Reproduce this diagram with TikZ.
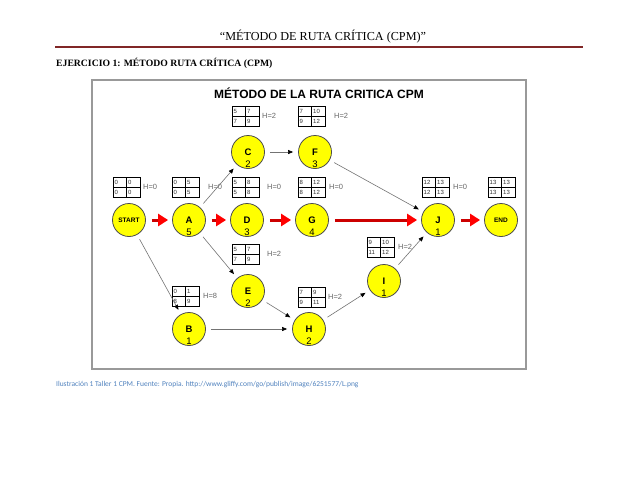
\documentclass[tikz,border=0pt]{standalone}
\usepackage{fontspec}
\setmainfont{Liberation Sans}
\newfontfamily\hdrfont{Liberation Serif}
\newfontfamily\capfont{Carlito}
\usetikzlibrary{arrows.meta}
\definecolor{cpmyellow}{RGB}{255,255,0}
\definecolor{hdrred}{RGB}{128,38,38}
\definecolor{capblue}{RGB}{79,129,189}
\definecolor{critred}{RGB}{204,0,0}
\begin{document}
\begin{tikzpicture}[x=1pt,y=-1pt,
  act/.style={circle,draw=black!70,line width=.8pt,fill=cpmyellow,minimum size=33pt,inner sep=0pt,font=\fontsize{9.5}{9.5}\selectfont\bfseries},
  endpt/.style={act,font=\fontsize{6.5}{6.5}\selectfont\bfseries},
  dur/.style={inner sep=0pt,font=\fontsize{9.5}{9.5}\selectfont},
  cell/.style={anchor=west,inner sep=0pt,font=\fontsize{6}{6}\selectfont,text=black!80},
  hlab/.style={anchor=west,inner sep=0pt,font=\fontsize{7.5}{7.5}\selectfont,text=black!60},
  crit/.style={critred,line width=3pt,-{Triangle[length=10pt,width=12pt,color=red]},shorten <=6pt,shorten >=4pt},
  dep/.style={black!55,line width=.6pt,-{Triangle[length=5pt,width=4pt,color=black]},shorten <=5pt,shorten >=5pt}]
\useasboundingbox (0,0) rectangle (638,493);
\node[font=\hdrfont\fontsize{12.2}{12.2}\selectfont] (hdr) at (323,37) {“MÉTODO DE RUTA CRÍTICA (CPM)”};
\draw[hdrred,line width=2pt] (55,47) -- (583,47);
\node[anchor=west,inner sep=0pt,font=\hdrfont\fontsize{9.7}{9.7}\selectfont\bfseries] (ejer) at (56,63) {EJERCICIO 1: MÉTODO RUTA CRÍTICA (CPM)};
\draw[black!40,line width=1.5pt] (92,80) rectangle (526,369);
\node[font=\fontsize{12}{12}\selectfont\bfseries] (ttl) at (319,93) {MÉTODO DE LA RUTA CRITICA CPM};
\foreach \n/\x/\y/\a/\b/\c/\d/\hx/\h in {START/113/177/0/0/0/0/143/0,A/172/177/0/5/0/5/208/0,D/232/177/5/8/5/8/267/0,G/298/177/8/12/8/12/329/0,C/232/106/5/7/7/9/262/2,F/298/106/7/10/9/12/334/2,J/422/177/12/13/12/13/453/0,END/488/177/13/13/13/13/0/,E/232/244/5/7/7/9/267/2,B/172/286/0/1/8/9/203/8,H/298/287/7/9/9/11/328/2,I/367/237/9/10/11/12/398/2}{
  \draw[line width=.7pt] (\x,\y) rectangle ++(27,20);
  \draw[line width=.5pt] (\x+13.5,\y) -- ++(0,20) (\x,\y+10) -- ++(27,0);
  \node[cell] (\n-es) at (\x+1.5,\y+5) {\a};
  \node[cell] (\n-ef) at (\x+15,\y+5) {\b};
  \node[cell] (\n-ls) at (\x+1.5,\y+15) {\c};
  \node[cell] (\n-lf) at (\x+15,\y+15) {\d};
  \ifx\h\empty\else\node[hlab] (\n-h) at (\hx,\y+10) {H=\h};\fi
}
\node[endpt] (START) at (129,220) {START};
\node[endpt] (END) at (501,220) {END};
\foreach \n/\x/\y/\d in {A/189/220/5,C/248/152/2,D/247/220/3,E/248/291/2,F/315/152/3,G/312/220/4,B/189/329/1,H/309/329/2,I/384/281/1,J/438/220/1}{
  \node[act] (\n) at (\x,\y) {\n};
  \node[dur] (\n-d) at (\x,\y+12) {\d};
}
\foreach \s/\t in {START/A,A/D,D/G,G/J,J/END}{\draw[crit] (\s) -- (\t);}
\foreach \s/\t in {A/C,C/F,F/J,START/B,A/E,E/H,B/H,H/I,I/J}{\draw[dep] (\s) -- (\t);}
\node[anchor=west,inner sep=0pt,text=capblue,font=\capfont\fontsize{7.5}{7.5}\selectfont] (cap) at (56,385) {Ilustración 1 Taller 1 CPM. Fuente: Propia. http://www.gliffy.com/go/publish/image/6251577/L.png};
\end{tikzpicture}
\end{document}
